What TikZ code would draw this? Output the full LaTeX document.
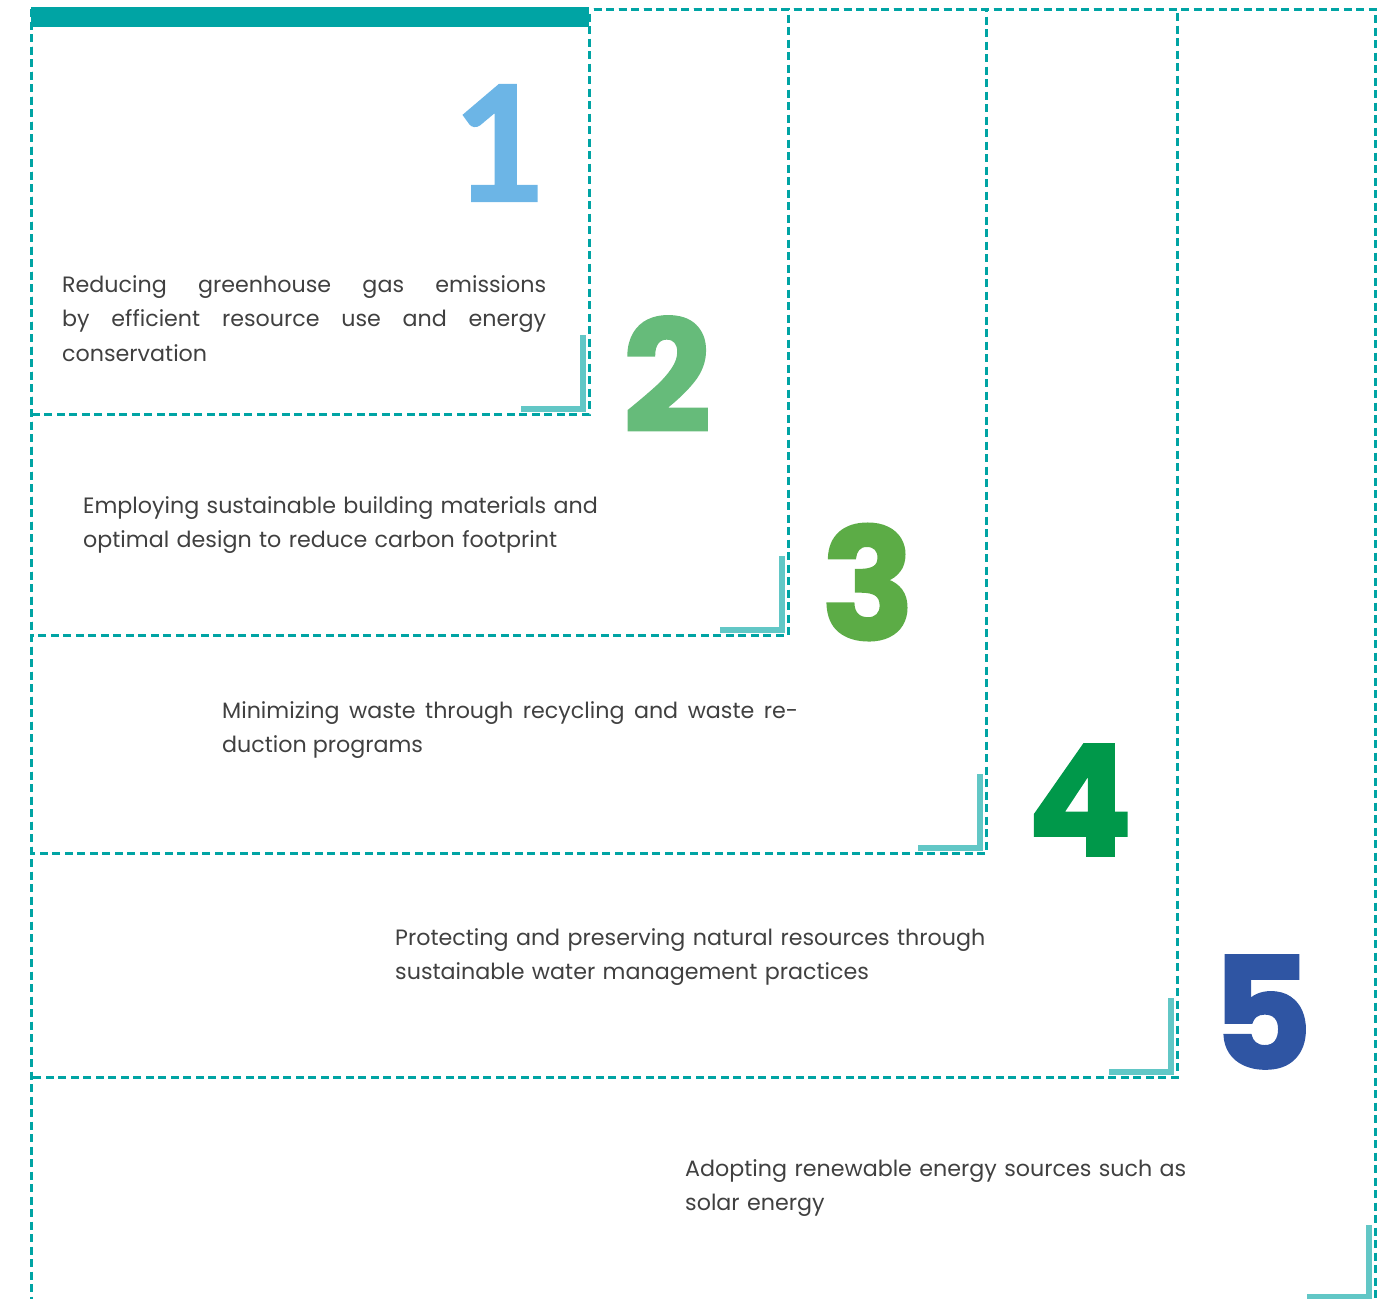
\documentclass[tikz,border=0pt]{standalone}
\usepackage{fontspec}
\setmainfont{Poppins}
\newfontfamily\numfont[BoldFeatures={FakeBold=1.5}]{Poppins}
\newfontfamily\onefont[BoldFeatures={FakeBold=1.5}]{Lato}
\definecolor{dashcol}{RGB}{0,164,164}
\definecolor{cornercol}{RGB}{98,199,198}
\definecolor{textcol}{RGB}{64,64,64}
\definecolor{numone}{RGB}{108,181,230}
\definecolor{numtwo}{RGB}{102,187,122}
\definecolor{numthree}{RGB}{92,172,70}
\definecolor{numfour}{RGB}{0,152,74}
\definecolor{numfive}{RGB}{47,85,163}
\begin{document}
\begin{tikzpicture}[x=1pt,y=-1pt]
  \tikzset{frame/.style={draw=dashcol,line width=3pt,dash pattern=on 8pt off 4.5pt},
    corner/.style={draw=cornercol,line width=6pt},
    num/.style={inner sep=0pt,font=\fontsize{155}{155}\selectfont\numfont\bfseries},
    desc/.style={anchor=base west,inner sep=0pt,text=textcol,text width=620pt,align=left,font=\fontsize{22.2}{34.5}\selectfont}};
  \useasboundingbox (0,0) rectangle (1385,1299);
  % corner marks
  \draw[corner] (583,335) -- (583,409) -- (521,409);
  \draw[corner] (782,556) -- (782,630) -- (720,630);
  \draw[corner] (980,774) -- (980,848) -- (918,848);
  \draw[corner] (1171,998) -- (1171,1072) -- (1109,1072);
  \draw[corner] (1369,1225) -- (1369,1297) -- (1307,1297);
  % frames
  \fill[dashcol] (31,7) rectangle (589,27);
  \draw[frame] (31,9) -- (589,9) -- (589,414) -- (31,414) (31,9) -- (31,414);
  \draw[frame] (31,9) -- (788,9) -- (788,635) -- (31,635) (31,9) -- (31,635);
  \draw[frame] (31,9) -- (986,9) -- (986,853) -- (31,853) (31,9) -- (31,853);
  \draw[frame] (31,9) -- (1177,9) -- (1177,1077) -- (31,1077) (31,9) -- (31,1077);
  \draw[frame] (31,9) -- (1375,9) -- (1375,1299) (31,9) -- (31,1299);
  % numbers
  \node[num,text=numone,font=\fontsize{160}{160}\selectfont\onefont\bfseries](One) at (500,143){1};
  \node[num,text=numtwo](Two) at (667,374){2};
  \node[num,text=numthree](Three) at (868,582){3};
  \node[num,text=numfour](Four) at (1080,800){4};
  \node[num,text=numfive](Five) at (1262,1012){5};
  % descriptions
  \node[desc,text width=484pt,align=justify](DescOne) at (62,292)
    {Reducing greenhouse gas emissions\linebreak by efficient resource use and energy\linebreak conservation};
  \node[desc](DescTwo) at (83,513){Employing sustainable building materials and\\optimal design to reduce carbon footprint};
  \node[desc,text width=576pt,align=justify](DescThree) at (222,718)
    {Minimizing waste through recycling and waste re-\linebreak duction programs};
  \node[desc](DescFour) at (395,945){Protecting and preserving natural resources through\\sustainable water management practices};
  \node[desc](DescFive) at (685,1176){Adopting renewable energy sources such as\\solar energy};
\end{tikzpicture}
\end{document}
